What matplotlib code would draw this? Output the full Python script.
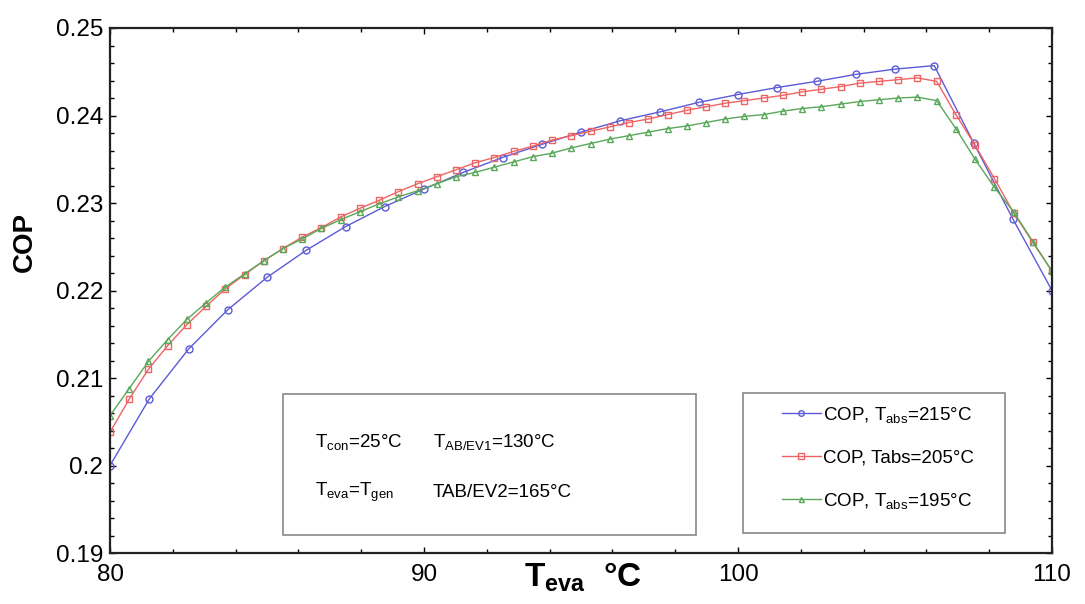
import numpy as np
import matplotlib
matplotlib.use("Agg")
import matplotlib.pyplot as plt
from matplotlib.ticker import MultipleLocator, FuncFormatter
from matplotlib.patches import Rectangle

plt.rcParams['font.family'] = ['Liberation Sans', 'DejaVu Sans']
plt.rcParams['mathtext.fontset'] = 'custom'
plt.rcParams['mathtext.rm'] = 'Liberation Sans'
plt.rcParams['mathtext.it'] = 'Liberation Sans'
plt.rcParams['mathtext.bf'] = 'Liberation Sans:bold'

# evaporator temperature grids (blue curve has half the points)
t_eva_215 = np.linspace(80, 110, 25)
t_eva_other = np.linspace(80, 110, 50)

# COP, Tabs = 215 C
cop_215 = [0.2000, 0.2076, 0.2133, 0.2178, 0.2215, 0.2246, 0.2273, 0.2296,
           0.2316, 0.2335, 0.2352, 0.2367, 0.2381, 0.2394, 0.2404, 0.2415,
           0.2424, 0.2432, 0.2439, 0.2447, 0.2453, 0.2457, 0.2369, 0.2282,
           0.2200]

# COP, Tabs = 205 C
cop_205 = [0.2038, 0.2076, 0.2110, 0.2137, 0.2161, 0.2182, 0.2202, 0.2218,
           0.2234, 0.2248, 0.2261, 0.2272, 0.2284, 0.2294, 0.2303, 0.2313,
           0.2322, 0.2330, 0.2338, 0.2346, 0.2352, 0.2359, 0.2365, 0.2372,
           0.2377, 0.2382, 0.2387, 0.2392, 0.2396, 0.2401, 0.2406, 0.2410,
           0.2414, 0.2417, 0.2420, 0.2423, 0.2427, 0.2430, 0.2433, 0.2437,
           0.2439, 0.2441, 0.2443, 0.2439, 0.2401, 0.2366, 0.2328, 0.2289,
           0.2255, 0.2222]

# COP, Tabs = 195 C
cop_195 = [0.2057, 0.2088, 0.2119, 0.2144, 0.2167, 0.2186, 0.2204, 0.2219,
           0.2234, 0.2248, 0.2259, 0.2271, 0.2281, 0.2290, 0.2299, 0.2307,
           0.2314, 0.2322, 0.2330, 0.2335, 0.2341, 0.2347, 0.2353, 0.2357,
           0.2363, 0.2368, 0.2373, 0.2377, 0.2381, 0.2385, 0.2388, 0.2392,
           0.2396, 0.2399, 0.2401, 0.2405, 0.2408, 0.2410, 0.2413, 0.2416,
           0.2418, 0.2420, 0.2421, 0.2417, 0.2385, 0.2350, 0.2318, 0.2290,
           0.2256, 0.2222]

labels = [r'COP, T$_{\mathregular{abs}}$=215°C', 'COP, Tabs=205°C',
          r'COP, T$_{\mathregular{abs}}$=195°C']

fig = plt.figure(figsize=(10.85, 6.04), dpi=100)
ax = fig.add_axes([110 / 1085, 1 - 553 / 604, 942 / 1085, 525 / 604])

l1, = ax.plot(t_eva_215, cop_215, '-o', color='#5b5bd6', lw=1.0, ms=5,
              mfc='none', mew=1.0)
l2, = ax.plot(t_eva_other, cop_205, '-s', color='#ee6464', lw=1.0, ms=5,
              mfc='none', mew=1.0)
l3, = ax.plot(t_eva_other, cop_195, '-^', color='#5aa85a', lw=1.0, ms=4.5,
              mfc='none', mew=1.0)

ax.set_xlim(80, 110)
ax.set_ylim(0.19, 0.25)
ax.xaxis.set_major_locator(MultipleLocator(10))
ax.xaxis.set_minor_locator(MultipleLocator(2))
ax.yaxis.set_major_locator(MultipleLocator(0.01))
ax.yaxis.set_minor_locator(MultipleLocator(0.002))
ax.yaxis.set_major_formatter(FuncFormatter(lambda v, p: '%g' % round(v, 3)))
ax.tick_params(which='both', direction='in', top=True, right=True,
               labelsize=17.5, width=1.0)
ax.tick_params(which='major', length=4, pad=5)
ax.tick_params(which='minor', length=3)
ax.tick_params(axis='x', pad=8)
for s in ax.spines.values():
    s.set_linewidth(1.6)
    s.set_color('#222222')

fig.text(25 / 1085, 1 - 242 / 604, 'COP', fontsize=20, fontweight='bold',
         rotation=90, ha='center', va='center')
fig.text(583 / 1085, 1 - 577 / 604, r'$\mathbf{T_{eva}}$  °C', fontsize=24,
         fontweight='bold', ha='center', va='center')

# parameter box
ax.add_patch(Rectangle((0.184, 0.034), 0.438, 0.269, transform=ax.transAxes,
                       fill=False, edgecolor='#888888', lw=1.2))
tk = dict(transform=ax.transAxes, fontsize=13.5, va='center', ha='left')
ax.text(0.218, 0.211, r'T$_{\mathregular{con}}$=25°C', **tk)
ax.text(0.343, 0.211, r'T$_{\mathregular{AB/EV1}}$=130°C', **tk)
ax.text(0.218, 0.116, r'T$_{\mathregular{eva}}$=T$_{\mathregular{gen}}$', **tk)
ax.text(0.343, 0.116, 'TAB/EV2=165°C', **tk)

# legend box
ax.add_patch(Rectangle((0.672, 0.038), 0.278, 0.267, transform=ax.transAxes,
                       fill=False, edgecolor='#888888', lw=1.2))
ax.legend([l1, l2, l3], labels, loc='center', bbox_to_anchor=(0.815, 0.181),
          frameon=False, fontsize=13.5, handlelength=2.1, handletextpad=0.1,
          labelspacing=1.3, markerscale=0.8)

fig.savefig('out.png', dpi=100)
